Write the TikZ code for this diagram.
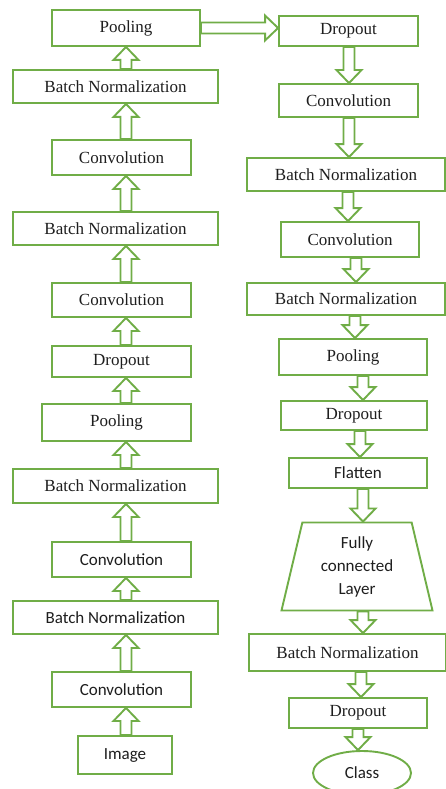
\documentclass[tikz,border=0pt]{standalone}
\usepackage{fontspec}
\setmainfont{Liberation Serif}
\newfontfamily\calfont{Carlito}
\usepackage{xcolor}
\usepackage{tikz}
\usetikzlibrary{calc, shapes.geometric}

\definecolor{layergreen}{RGB}{112,173,71}
\definecolor{labelgray}{RGB}{30,30,30}
\newcommand{\ShaftHalf}{5.5pt}
\newcommand{\HeadHalf}{12.5pt}
\newcommand{\HeadLen}{13pt}

% hollow block arrow between two points
\newcommand{\blockarr}[2]{%
\path (#1) coordinate (ba-s) (#2) coordinate (ba-t);
\coordinate (ba-h) at ($(ba-t)!\HeadLen!(ba-s)$);
\draw[flowarrow] ($(ba-s)!\ShaftHalf!90:(ba-t)$) -- ($(ba-h)!\ShaftHalf!90:(ba-t)$)
  -- ($(ba-h)!\HeadHalf!90:(ba-t)$) -- (ba-t) -- ($(ba-h)!\HeadHalf!-90:(ba-t)$)
  -- ($(ba-h)!\ShaftHalf!-90:(ba-t)$) -- ($(ba-s)!\ShaftHalf!-90:(ba-t)$) -- cycle;}

\tikzset{
layer/.style={draw=layergreen, line width=1.9pt, fill=white, text=labelgray,
  inner sep=0pt, minimum height=33pt, font=\fontsize{17}{20}\selectfont},
sanslayer/.style={layer, font=\calfont\fontsize{17}{23}\selectfont},
flowarrow/.style={draw=layergreen, line width=1.9pt, fill=white}
}

\begin{document}
\begin{tikzpicture}[x=1pt, y=-1pt]
\useasboundingbox (0,0) rectangle (446,789);

% left column, bottom to top
\node[sanslayer, minimum width=94pt, minimum height=38pt] (img) at (125,755) {Image};
\node[sanslayer, minimum width=139pt, minimum height=35pt] (conv1) at (121.5,689.5) {Convolution};
\node[sanslayer, minimum width=205pt] (bn1) at (115.5,617.5) {Batch Normalization};
\node[sanslayer, minimum width=139pt, minimum height=35pt] (conv2) at (121.5,559.5) {Convolution};
\node[layer, minimum width=205pt, minimum height=34pt] (bn2) at (115.5,486) {Batch Normalization};
\node[layer, minimum width=149pt, minimum height=37pt] (pool1) at (116.5,422.5) {Pooling};
\node[layer, minimum width=139pt, minimum height=31pt] (drop1) at (121.5,361.5) {Dropout};
\node[layer, minimum width=139pt, minimum height=34pt] (conv3) at (121.5,300) {Convolution};
\node[layer, minimum width=205pt] (bn3) at (115.5,228.5) {Batch Normalization};
\node[layer, minimum width=139pt, minimum height=35pt] (conv4) at (121.5,157.5) {Convolution};
\node[layer, minimum width=205pt] (bn4) at (115.5,86.5) {Batch Normalization};
\node[layer, minimum width=148pt, minimum height=36pt] (pool2) at (126,28) {Pooling};

% right column, top to bottom
\node[layer, minimum width=139pt, minimum height=30pt] (drop2) at (348.5,31) {Dropout};
\node[layer, minimum width=139pt] (conv5) at (348.5,100.5) {Convolution};
\node[layer, minimum width=198pt] (bn5) at (346,174.5) {Batch Normalization};
\node[layer, minimum width=138pt, minimum height=35pt] (conv6) at (350,239.5) {Convolution};
\node[layer, minimum width=198pt, minimum height=32pt] (bn6) at (346,299) {Batch Normalization};
\node[layer, minimum width=148pt, minimum height=36pt] (pool3) at (353,357) {Pooling};
\node[layer, minimum width=146pt, minimum height=29pt] (drop3) at (354,415.5) {Dropout};
\node[sanslayer, minimum width=138pt, minimum height=30pt] (flat) at (358,473) {Flatten};
\node[sanslayer, trapezium, trapezium angle=71, trapezium stretches body,
  minimum width=151pt, minimum height=88pt, align=center] (fc) at (357,566.5) {Fully\\connected\\Layer};
\node[layer, minimum width=197pt, minimum height=37pt] (bn7) at (347.5,652.5) {Batch Normalization};
\node[layer, minimum width=138pt, minimum height=30pt] (drop4) at (358,713) {Dropout};
\node[sanslayer, ellipse, minimum width=98pt, minimum height=44pt] (class) at (362,773) {Class};

% arrows up the left column
\foreach \src/\dst in {img/conv1, conv1/bn1, bn1/conv2, conv2/bn2, bn2/pool1, pool1/drop1,
  drop1/conv3, conv3/bn3, bn3/conv4, conv4/bn4, bn4/pool2}
\blockarr{126,0|-\src.north}{126,0|-\dst.south};

% across the top
\blockarr{pool2.east}{pool2.east-|drop2.west};

% arrows down the right column
\foreach \src/\dst/\ax in {drop2/conv5/349, conv5/bn5/349, bn5/conv6/348, conv6/bn6/356,
  bn6/pool3/355, pool3/drop3/363, drop3/flat/360, flat/fc/363, fc/bn7/363,
  bn7/drop4/361, drop4/class/358}
\blockarr{\ax,0|-\src.south}{\ax,0|-\dst.north};
\end{tikzpicture}
\end{document}
